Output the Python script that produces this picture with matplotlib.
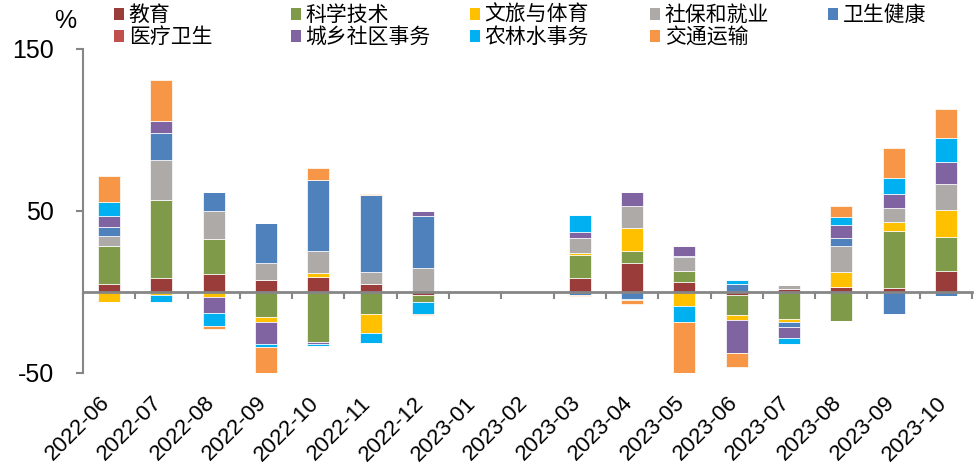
import numpy as np
import matplotlib
matplotlib.use("Agg")
import matplotlib.pyplot as plt
import matplotlib.transforms as mtransforms
from matplotlib.patches import Patch

plt.rcParams['font.family'] = ['Liberation Sans', 'Noto Sans CJK SC', 'DejaVu Sans']
plt.rcParams['axes.unicode_minus'] = False

months = ['2022-06', '2022-07', '2022-08', '2022-09', '2022-10', '2022-11', '2022-12',
          '2023-01', '2023-02', '2023-03', '2023-04', '2023-05', '2023-06', '2023-07',
          '2023-08', '2023-09', '2023-10']

# 各项支出对增速的拉动（%）
edu = [5.1, 8.4, 11.3, 7.6, 9.1, 5.1, -2.1, 0, 0, 8.6, 17.9, 6.2, -2.1, 2.1, 2.9, 2.3, 13.2]
sci = [23.5, 48.6, 21.6, -15.4, -31.1, -13.6, -3.9, 0, 0, 14.4, 7.4, 6.8, -12.3, -16.9, -17.7, 35.4, 21.0]
culture = [-6.4, -1.9, -3.3, -3.3, 2.5, -11.9, 0, 0, 0, 0.8, 14.2, -8.6, -2.9, -1.9, 9.7, 5.8, 16.7]
social = [6.0, 24.5, 17.1, 10.3, 13.8, 7.2, 15.0, 0, 0, 9.3, 13.4, 8.6, 0, 2.5, 15.6, 8.4, 15.6]
health = [5.8, 16.5, 11.5, 24.5, 43.6, 47.5, 32.1, 0, 0, -2.1, -4.1, 0.8, 4.9, -2.5, 5.3, -13.4, -2.7]
medical = [0] * 17
urban = [6.4, 7.6, -9.5, -13.4, -0.8, 0, 2.7, 0, 0, 3.7, 8.6, 5.8, -20.4, -7.0, 7.8, 8.6, 14.0]
agri = [8.8, -4.3, -8.2, -1.9, -1.6, -6.0, -7.4, 0, 0, 10.5, -0.6, -9.7, 2.7, -4.1, 4.7, 9.9, 14.6]
transport = [16.3, 25.1, -2.1, -17.7, 7.6, 0.6, -0.6, 0, 0, -0.4, -2.7, -33.5, -8.6, 0, 7.0, 18.5, 17.7]

names = ['教育', '科学技术', '文旅与体育', '社保和就业', '卫生健康',
         '医疗卫生', '城乡社区事务', '农林水事务', '交通运输']
series = [edu, sci, culture, social, health, medical, urban, agri, transport]
colors = ['#993C3A', '#7F9A48', '#FFC000', '#ADAAA8', '#4F81BD',
          '#C0504D', '#8064A2', '#00B0F0', '#F79646']

W, H = 979, 470
fig = plt.figure(figsize=(W / 100, H / 100), dpi=100)
ax = fig.add_axes([83 / W, 1 - 373 / H, (972 - 83) / W, (373 - 49) / H])

x = np.arange(len(months))
pos_bottom = np.zeros(len(months))
neg_bottom = np.zeros(len(months))
for vals, color in zip(series, colors):
    v = np.array(vals, dtype=float)
    p = np.where(v > 0, v, 0)
    n = np.where(v < 0, v, 0)
    ax.bar(x, p, 0.42, bottom=pos_bottom, color=color, edgecolor='white', linewidth=0.5)
    ax.bar(x, n, 0.42, bottom=neg_bottom, color=color, edgecolor='white', linewidth=0.5)
    pos_bottom += p
    neg_bottom += n

gray = '#868686'
ax.set_xlim(-0.5, 16.5)
ax.set_ylim(-50, 150)
ax.set_yticks([-50, 50, 150])
ax.tick_params(axis='y', length=5, width=1.5, color=gray, pad=16, labelsize=18)

for s in ['top', 'right']:
    ax.spines[s].set_visible(False)
ax.spines['left'].set_color(gray)
ax.spines['left'].set_linewidth(1.5)
ax.spines['bottom'].set_position(('data', 0))
ax.spines['bottom'].set_color(gray)
ax.spines['bottom'].set_linewidth(2)

ax.set_xticks(x)
ax.set_xticklabels([])
ax.set_xticks(np.arange(-0.5, 17, 1), minor=True)
ax.tick_params(axis='x', which='major', length=0)
ax.tick_params(axis='x', which='minor', length=5, width=1.5, color=gray)

sec = ax.secondary_xaxis('bottom')
sec.set_xticks(x, months)
sec.spines['bottom'].set_visible(False)
sec.tick_params(length=0, pad=14, labelsize=16)
shift = mtransforms.ScaledTranslation(5 / 100, 0, fig.dpi_scale_trans)
for lab in sec.get_xticklabels():
    lab.set_rotation(45)
    lab.set_ha('right')
    lab.set_transform(lab.get_transform() + shift)

fig.text(65 / W, 1 - 21 / H, '%', ha='center', va='center', fontsize=18)

# 图例：Excel式等宽分列
cols = [[0, 5], [1, 6], [2, 7], [3, 8], [4]]
x_lefts = [114, 291, 470, 650, 828]
for idx, xl in zip(cols, x_lefts):
    handles = [Patch(facecolor=colors[i]) for i in idx]
    labels = [names[i] for i in idx]
    fig.legend(handles, labels, loc='upper left', bbox_to_anchor=(xl / W, 1 - 4 / H),
               frameon=False, prop={'family': ['Noto Sans CJK SC'], 'size': 15},
               handlelength=0.5, handleheight=0.5, handletextpad=0.2,
               labelspacing=0.0, borderpad=0, borderaxespad=0)

fig.savefig('out.png', dpi=100)
